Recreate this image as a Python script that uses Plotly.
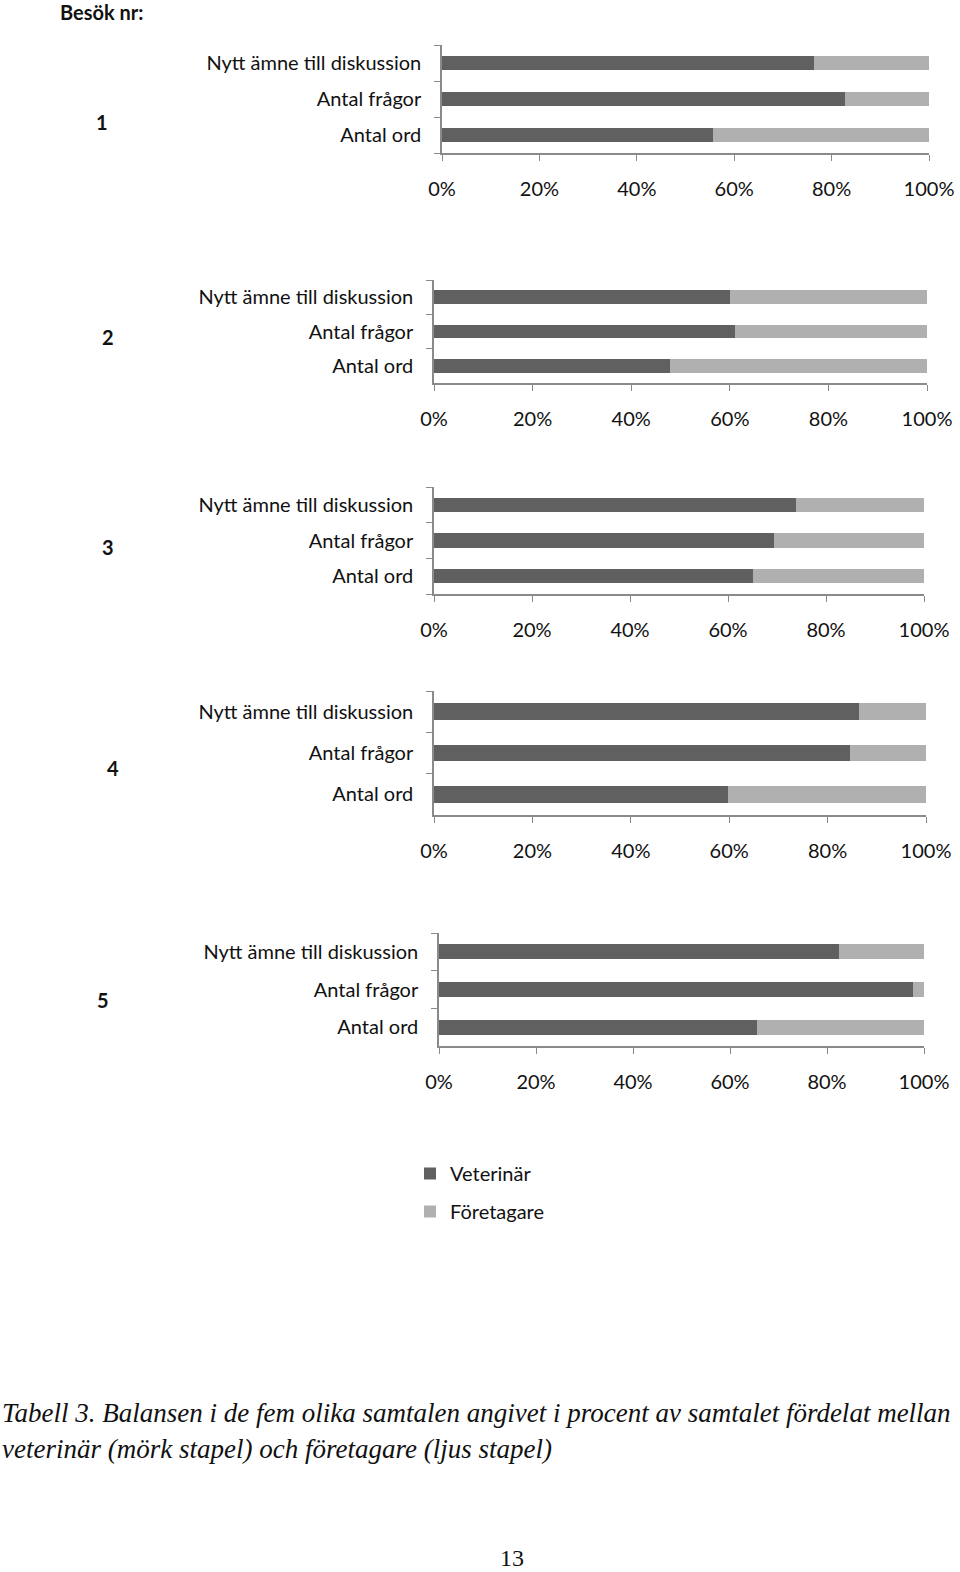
import plotly.graph_objects as go

W, H = 960, 1572

categories = ["Antal ord", "Antal frågor", "Nytt ämne till diskussion"]
visit_labels = ["1", "2", "3", "4", "5"]
# Veterinär share (%) per visit, order: Antal ord, Antal frågor, Nytt ämne
veterinar = [
    [55.6, 82.8, 76.4],
    [47.9, 61.1, 60.1],
    [65.2, 69.3, 73.8],
    [59.7, 84.6, 86.4],
    [65.6, 97.8, 82.5],
]
# Företagare share (%) per visit
foretagare = [
    [44.4, 17.2, 23.6],
    [52.1, 38.9, 39.9],
    [34.8, 30.7, 26.2],
    [40.3, 15.4, 13.6],
    [34.4, 2.2, 17.5],
]
x_ticks = [0, 20, 40, 60, 80, 100]
x_ticklabels = ["0%", "20%", "40%", "60%", "80%", "100%"]

# pixel boxes of each panel: (x0, x1, y_top, y_bottom)
boxes = [
    (442, 929, 45, 153),
    (434, 927, 280, 383),
    (434, 924, 487, 594),
    (434, 926, 691, 815),
    (439, 924, 933, 1046),
]
label_pos = [(102, 122), (108, 337), (108, 547), (113, 768), (103, 1000)]

DARK = "#606060"
LIGHT = "#b0b0b0"
AXC = "#8a8a8a"
FONT = "Lato, Open Sans, sans-serif"

fig = go.Figure()
layout = {}
for i in range(5):
    sfx = "" if i == 0 else str(i + 1)
    xa, ya = "x" + sfx, "y" + sfx
    fig.add_trace(go.Bar(y=categories, x=veterinar[i], orientation="h", name="Veterinär",
                         marker=dict(color=DARK, line=dict(width=0)), xaxis=xa, yaxis=ya,
                         showlegend=(i == 0), legendgroup="v", width=0.4))
    fig.add_trace(go.Bar(y=categories, x=foretagare[i], orientation="h", name="Företagare",
                         marker=dict(color=LIGHT, line=dict(width=0)), xaxis=xa, yaxis=ya,
                         showlegend=(i == 0), legendgroup="f", width=0.4))
    x0, x1, yt, yb = boxes[i]
    layout["xaxis" + sfx] = dict(domain=[x0 / W, x1 / W], anchor=ya, range=[0, 100],
                                 tickvals=x_ticks, ticktext=x_ticklabels, ticks="outside",
                                 ticklen=6, tickcolor=AXC, showline=True, linecolor=AXC,
                                 linewidth=1.5, showgrid=False, zeroline=False,
                                 tickfont=dict(size=20, color="#111", family=FONT),
                                 ticklabelstandoff=11, fixedrange=True, automargin=False)
    layout["yaxis" + sfx] = dict(domain=[1 - yb / H, 1 - yt / H], anchor=xa, type="category",
                                 categoryorder="array", categoryarray=categories,
                                 range=[-0.5, 2.5], ticks="outside", tickson="boundaries",
                                 ticklen=6, tickcolor=AXC, showline=True, linecolor=AXC,
                                 linewidth=1.5, showgrid=False, zeroline=False,
                                 tickfont=dict(size=20, color="#111", family=FONT),
                                 ticklabelstandoff=15, fixedrange=True, automargin=False)

annotations = [dict(text="<b>Besök nr:</b>", x=58 / W, y=1 - 12 / H, xref="paper", yref="paper",
                    xanchor="left", yanchor="middle", showarrow=False,
                    font=dict(size=20, color="#111", family=FONT))]
for lab, (lx, ly) in zip(visit_labels, label_pos):
    annotations.append(dict(text="<b>" + lab + "</b>", x=lx / W, y=1 - ly / H, xref="paper",
                            yref="paper", xanchor="center", yanchor="middle", showarrow=False,
                            font=dict(size=20, color="#111", family=FONT)))
caption1 = "Tabell 3. Balansen i de fem olika samtalen angivet i procent av samtalet fördelat mellan"
caption2 = "veterinär (mörk stapel) och företagare (ljus stapel)"
for txt, cy in [(caption1, 1413), (caption2, 1449)]:
    annotations.append(dict(text="<i>" + txt + "</i>", x=0, y=1 - cy / H, xref="paper", yref="paper",
                            xanchor="left", yanchor="middle", showarrow=False,
                            font=dict(size=27, color="#111", family="Liberation Serif, serif")))
annotations.append(dict(text="13", x=512 / W, y=1 - 1558 / H, xref="paper", yref="paper",
                        xanchor="center", yanchor="middle", showarrow=False,
                        font=dict(size=24, color="#111", family="Liberation Serif, serif")))

fig.update_layout(
    width=W, height=H, margin=dict(l=0, r=0, t=0, b=0, autoexpand=False),
    paper_bgcolor="white", plot_bgcolor="white", barmode="stack", bargap=0.6,
    showlegend=True,
    legend=dict(x=410 / W, y=1 - 1154 / H, xanchor="left", yanchor="top",
                font=dict(size=20, color="#111", family=FONT), tracegroupgap=9,
                itemwidth=30, bgcolor="rgba(0,0,0,0)"),
    annotations=annotations,
    **layout,
)

fig.write_html("out.html")
